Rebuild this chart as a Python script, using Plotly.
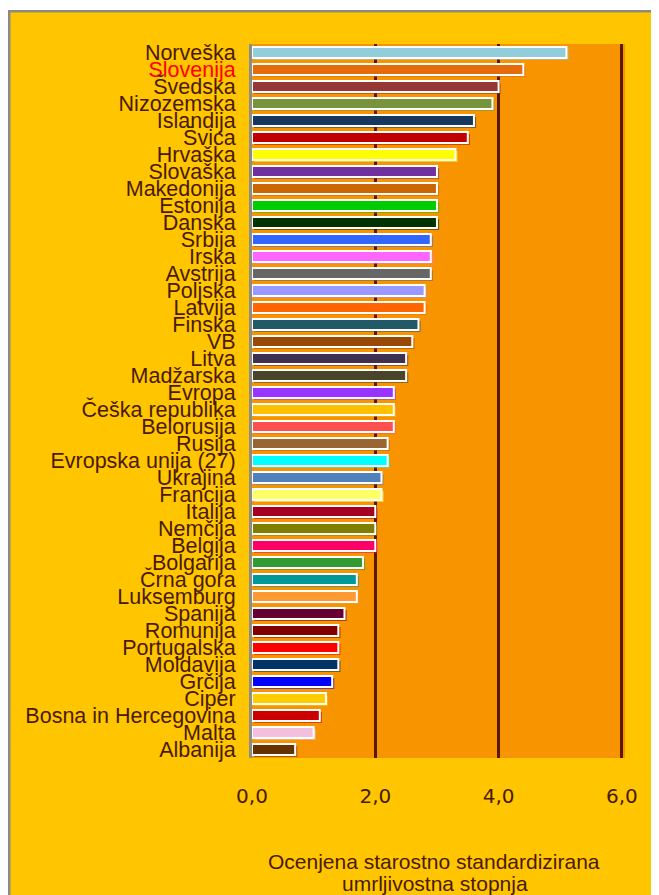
import plotly.graph_objects as go

countries = ["Norveška", "Slovenija", "Švedska", "Nizozemska", "Islandija", "Švica", "Hrvaška",
             "Slovaška", "Makedonija", "Estonija", "Danska", "Srbija", "Irska", "Avstrija",
             "Poljska", "Latvija", "Finska", "VB", "Litva", "Madžarska", "Evropa",
             "Češka republika", "Belorusija", "Rusija", "Evropska unija (27)", "Ukrajina",
             "Francija", "Italija", "Nemčija", "Belgija", "Bolgarija", "Črna gora",
             "Luksemburg", "Španija", "Romunija", "Portugalska", "Moldavija", "Grčija",
             "Ciper", "Bosna in Hercegovina", "Malta", "Albanija"]

values = [5.1, 4.4, 4.0, 3.9, 3.6, 3.5, 3.3,
          3.0, 3.0, 3.0, 3.0, 2.9, 2.9, 2.9,
          2.8, 2.8, 2.7, 2.6, 2.5, 2.5, 2.3,
          2.3, 2.3, 2.2, 2.2, 2.1, 2.1, 2.0,
          2.0, 2.0, 1.8, 1.7, 1.7, 1.5, 1.4,
          1.4, 1.4, 1.3, 1.2, 1.1, 1.0, 0.7]

bar_colors = ["#92CDDC", "#E46C0A", "#953735", "#77933C", "#17375E", "#C00000", "#FFFF00",
              "#7030A0", "#CC6600", "#00CC00", "#003300", "#3366FF", "#FF66FF", "#666666",
              "#9999FF", "#FF6600", "#215967", "#984807", "#403151", "#4A452A", "#9933FF",
              "#FFC000", "#FF5050", "#996633", "#00FFFF", "#4F81BD", "#FFFF66", "#A50021",
              "#808000", "#FF0066", "#339933", "#009999", "#FF9933", "#660033", "#800000",
              "#FF0000", "#003366", "#0000FF", "#FFCC00", "#CC0000", "#F2C0DD", "#663300"]

tick_vals = [0, 2, 4, 6]
tick_text = ["0,0", "2,0", "4,0", "6,0"]
highlight = "Slovenija"
title_lines = ["Ocenjena starostno standardizirana", "umrljivostna stopnja"]

TEXT = "#4A1A00"
W, H = 659, 895
L, R, T, B = 244, 42, 36, 145
PW, PH = W - L - R, H - T - B


def xp(px):
    return (px - L) / PW


def yp(py):
    return (H - B - py) / PH


ticktext_cat = [f"<span style='color:#FF0000'>{c}</span>" if c == highlight else c for c in countries]

fig = go.Figure()
# shadow
fig.add_trace(go.Bar(
    y=countries, x=values, base=0.035, orientation="h", width=0.65, offset=-0.325 + 0.12,
    marker=dict(color=bar_colors, opacity=0.55, line=dict(width=0)),
    hoverinfo="skip", showlegend=False))
# bars
fig.add_trace(go.Bar(
    y=countries, x=values, orientation="h", width=0.65, offset=-0.325,
    marker=dict(color=bar_colors, line=dict(color="white", width=2)),
    showlegend=False))

shapes = [
    dict(type="rect", xref="paper", yref="paper", x0=xp(0), x1=xp(W), y0=yp(2), y1=yp(0),
         fillcolor="white", line=dict(width=0)),
    dict(type="rect", xref="paper", yref="paper", x0=xp(0), x1=xp(2.5), y0=yp(H), y1=yp(2),
         fillcolor="#8C8A80", line=dict(width=0)),
    dict(type="rect", xref="paper", yref="paper", x0=xp(0), x1=xp(W), y0=yp(4.5), y1=yp(2),
         fillcolor="#8C8A80", line=dict(width=0)),
]

annotations = [
    dict(text=title_lines[0], xref="paper", yref="paper", x=xp(426), y=yp(853),
         xanchor="center", yanchor="middle", showarrow=False,
         font=dict(family="Liberation Sans, Arial", size=21, color=TEXT)),
    dict(text=title_lines[1], xref="paper", yref="paper", x=xp(427), y=yp(875.5),
         xanchor="center", yanchor="middle", showarrow=False,
         font=dict(family="Liberation Sans, Arial", size=21, color=TEXT)),
]

fig.update_layout(
    width=W, height=H, autosize=False,
    margin=dict(l=L, r=R, t=T, b=B, pad=0),
    paper_bgcolor="#FFC600", plot_bgcolor="#F79400",
    barmode="overlay", shapes=shapes, annotations=annotations,
    xaxis=dict(range=[0, 6.05], tickvals=tick_vals, ticktext=tick_text,
               showgrid=True, gridcolor="#5A1800", gridwidth=2.5, zeroline=False,
               ticks="", ticklabelstandoff=24,
               tickfont=dict(family="DejaVu Sans", size=20, color=TEXT), fixedrange=True),
    yaxis=dict(type="category", categoryorder="array", categoryarray=countries,
               tickvals=countries, ticktext=ticktext_cat, autorange="reversed",
               showgrid=False, showline=True, linecolor="#8C8C8C", linewidth=3,
               ticks="", ticklabelstandoff=9,
               tickfont=dict(family="Liberation Sans, Arial", size=21.5, color=TEXT), fixedrange=True),
)

fig.write_html("out.html", config={"displayModeBar": False})
